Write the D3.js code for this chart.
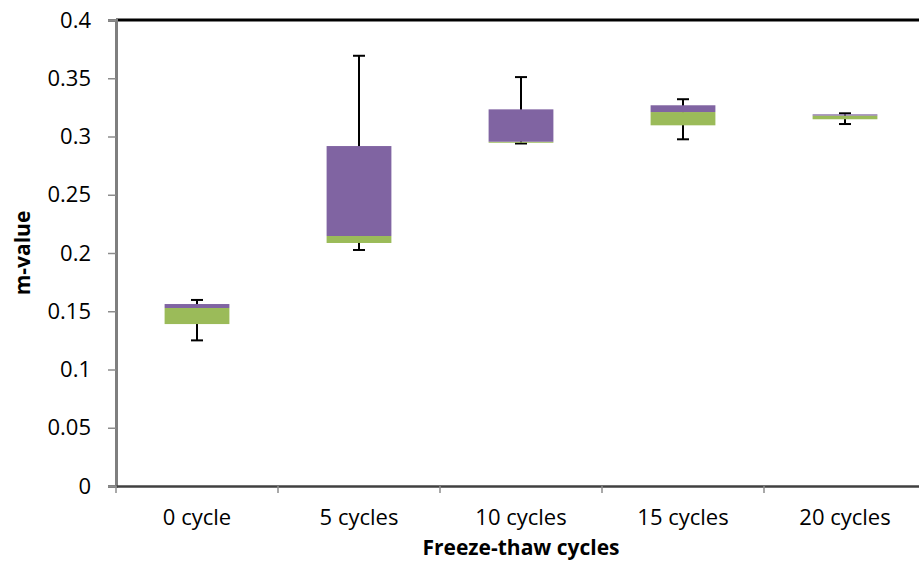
<!DOCTYPE html>
<html>
<head>
<meta charset="utf-8">
<script src="https://cdn.jsdelivr.net/npm/d3@7"></script>
<style>
  body { margin: 0; background: #fff; }
  svg { display: block; font-family: "Open Sans", "Noto Sans", sans-serif; }
</style>
</head>
<body>
<div id="chart"></div>
<script>
// stacked box plot: whisker min, Q1, median, Q3, whisker max
const categories = ['0 cycle', '5 cycles', '10 cycles', '15 cycles', '20 cycles'];
const minVals    = [0.125, 0.2026, 0.294, 0.2976, 0.3107];
const q1Vals     = [0.139, 0.2086, 0.2950, 0.3096, 0.3148];
const medVals    = [0.1528, 0.2146, 0.2955, 0.321, 0.318];
const q3Vals     = [0.1562, 0.2918, 0.3233, 0.3268, 0.319];
const maxVals    = [0.1597, 0.3693, 0.351, 0.332, 0.3199];
const yTicks     = [0, 0.05, 0.1, 0.15, 0.2, 0.25, 0.3, 0.35, 0.4];

const W = 919, H = 561;
const mLeft = 116, mTop = 20, mBottom = 486, mRight = 926;
const fontSize = 22;

const svg = d3.select('#chart').append('svg')
    .attr('width', W).attr('height', H);

const x = d3.scaleBand().domain(categories).range([mLeft, mRight]);
const y = d3.scaleLinear().domain([0, 0.4]).range([mBottom, mTop]);
const boxW = x.bandwidth() * 0.4;

const data = categories.map((c, i) => ({
    cat: c, min: minVals[i], q1: q1Vals[i], med: medVals[i], q3: q3Vals[i], max: maxVals[i]
}));

// whiskers (drawn first so boxes cover the stem)
const wg = svg.append('g');
data.forEach(d => {
    const cx = x(d.cat) + x.bandwidth() / 2;
    wg.append('line')
        .attr('x1', cx).attr('x2', cx)
        .attr('y1', y(d.max)).attr('y2', y(d.min))
        .attr('stroke', '#000').attr('stroke-width', 2);
    [d.max, d.min].forEach(v => {
        wg.append('line')
            .attr('x1', cx - 6).attr('x2', cx + 6)
            .attr('y1', y(v)).attr('y2', y(v))
            .attr('stroke', '#000').attr('stroke-width', 2);
    });
});

// boxes: green Q1..median, purple median..Q3
const bg = svg.append('g');
data.forEach(d => {
    const bx = x(d.cat) + (x.bandwidth() - boxW) / 2;
    bg.append('rect')
        .attr('x', bx).attr('width', boxW)
        .attr('y', y(d.med)).attr('height', Math.max(1, y(d.q1) - y(d.med)))
        .attr('fill', '#9BBB59');
    bg.append('rect')
        .attr('x', bx).attr('width', boxW)
        .attr('y', y(d.q3)).attr('height', Math.max(1, y(d.med) - y(d.q3)))
        .attr('fill', '#8064A2');
});

// top border
svg.append('line')
    .attr('x1', mLeft).attr('x2', W).attr('y1', mTop).attr('y2', mTop)
    .attr('stroke', '#000').attr('stroke-width', 3);

// y axis
const yAxis = svg.append('g')
    .attr('transform', `translate(${mLeft},0)`)
    .call(d3.axisLeft(y).tickValues(yTicks).tickSize(8).tickPadding(17)
        .tickFormat(d => d === 0 ? '0' : String(+d.toFixed(2))));
yAxis.select('.domain').attr('stroke', '#7f7f7f').attr('stroke-width', 3);
yAxis.selectAll('.tick line').attr('stroke', '#8c8c8c').attr('stroke-width', 1.5);
yAxis.selectAll('text').attr('font-size', fontSize).attr('fill', '#000')
    .attr('font-family', '"Open Sans", sans-serif');

// x axis
const xAxis = svg.append('g')
    .attr('transform', `translate(0,${mBottom})`)
    .call(d3.axisBottom(x).tickSize(0).tickPadding(23));
xAxis.select('.domain').attr('stroke', '#404040').attr('stroke-width', 2.5);
xAxis.selectAll('text').attr('font-size', fontSize).attr('fill', '#000')
    .attr('font-family', '"Open Sans", sans-serif');
// boundary ticks between categories
const bounds = categories.map(c => x(c));
svg.append('g').selectAll('line').data(bounds).join('line')
    .attr('x1', d => d).attr('x2', d => d)
    .attr('y1', mBottom).attr('y2', mBottom + 7)
    .attr('stroke', '#8c8c8c').attr('stroke-width', 1.5);

// titles
svg.append('text')
    .attr('x', (mLeft + mRight) / 2).attr('y', 555)
    .attr('text-anchor', 'middle')
    .attr('font-size', 21).attr('font-weight', 'bold')
    .text('Freeze-thaw cycles');
svg.append('text')
    .attr('transform', `translate(30,253) rotate(-90)`)
    .attr('text-anchor', 'middle')
    .attr('font-size', 21).attr('font-weight', 'bold')
    .text('m-value');
</script>
</body>
</html>
